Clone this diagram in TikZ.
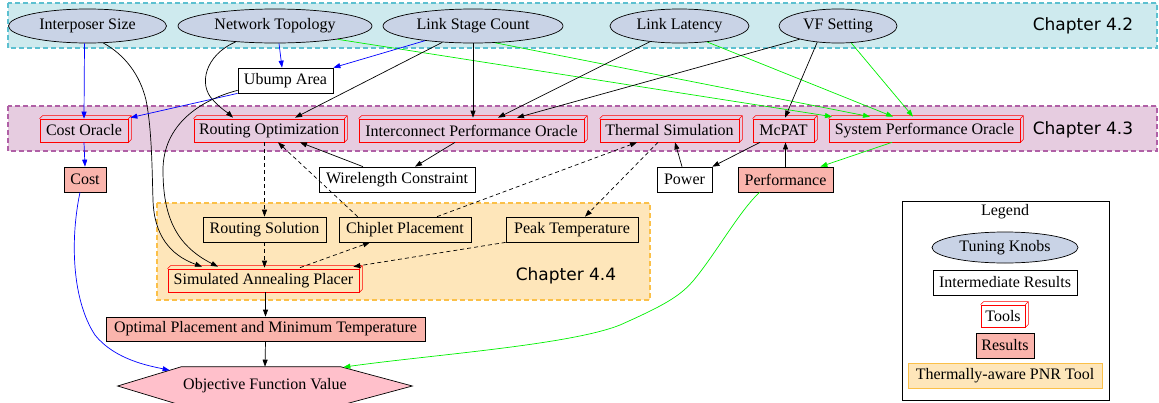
\documentclass[tikz,border=0pt]{standalone}
\usepackage{fontspec}
\setmainfont{Liberation Serif}
\newfontfamily\chapfont{DejaVu Sans}
\usetikzlibrary{shapes.geometric,arrows.meta,calc}
\definecolor{knobc}{RGB}{201,211,230}
\definecolor{resc}{RGB}{250,180,172}
\definecolor{objc}{RGB}{255,192,203}
\definecolor{cyanf}{RGB}{206,234,238}
\definecolor{cyand}{RGB}{92,192,208}
\definecolor{purpf}{RGB}{230,204,224}
\definecolor{purpd}{RGB}{176,96,166}
\definecolor{orngf}{RGB}{254,230,186}
\definecolor{orngd}{RGB}{251,192,72}
\definecolor{grn}{RGB}{0,240,0}
\begin{document}
\begin{tikzpicture}[x=1pt,y=-1pt,
  base/.style={inner sep=0pt, font=\fontsize{16}{18}\selectfont, line width=0.7pt},
  knob/.style={base, ellipse, draw=black, fill=knobc, minimum height=34},
  inter/.style={base, rectangle, draw=black, minimum height=25},
  tool/.style={base, rectangle, draw=red, minimum height=23},
  res/.style={base, rectangle, draw=black, fill=resc, minimum height=25},
  clus/.style={line width=1.8pt, dash pattern=on 5pt off 3pt},
  chap/.style={inner sep=0pt, font=\chapfont\fontsize{17}{20}\selectfont},
  arr/.style={-{Triangle[length=7pt,width=5pt]}, line width=0.7pt},
  dsh/.style={arr, dash pattern=on 4pt off 3pt},
]
\useasboundingbox (0,0) rectangle (1159,402);
% clusters
\path[clus, fill=cyanf, draw=cyand] (8,3) rectangle (1157,48);
\path[clus, fill=purpf, draw=purpd] (8,106) rectangle (1157,151);
\path[clus, fill=orngf, draw=orngd] (157,203) rectangle (650,300);
\node[chap] (ch42) at (1083,26) {Chapter 4.2};
\node[chap] (ch43) at (1083,130) {Chapter 4.3};
\node[chap] (ch44) at (566,276) {Chapter 4.4};
% knobs
\node[knob, minimum width=158] (ip) at (87.5,26) {Interposer Size};
\node[knob, minimum width=194] (nt) at (275,26) {Network Topology};
\node[knob, minimum width=180] (lsc) at (473,26) {Link Stage Count};
\node[knob, minimum width=139] (ll) at (679.5,26) {Link Latency};
\node[knob, minimum width=118] (vf) at (838,26) {VF Setting};
\node[inter, fill=white, minimum width=95] (ub) at (285.5,80.5) {Ubump Area};
% tools
\node[tool, minimum width=88] (co) at (84,130.5) {Cost Oracle};
\node[tool, minimum width=150] (ro) at (269,130.5) {Routing Optimization};
\node[tool, minimum width=225] (ipo) at (471.5,130.5) {Interconnect Performance Oracle};
\node[tool, minimum width=139] (ts) at (669.5,130.5) {Thermal Simulation};
\node[tool, minimum width=61] (mc) at (783.5,130.5) {McPAT};
\node[tool, minimum width=191] (spo) at (924.5,130.5) {System Performance Oracle};
% row 3
\node[res, minimum width=42] (cost) at (85,179.5) {Cost};
\node[inter, fill=white, minimum width=156] (wc) at (397,179.5) {Wirelength Constraint};
\node[inter, fill=white, minimum width=55] (pw) at (684.5,179.5) {Power};
\node[res, minimum width=95] (pf) at (785.5,179.5) {Performance};
% placer cluster
\node[inter, minimum width=123] (rs) at (264.5,229.5) {Routing Solution};
\node[inter, minimum width=132] (cp) at (405,229.5) {Chiplet Placement};
\node[inter, minimum width=132] (pt) at (572,229.5) {Peak Temperature};
\node[tool, minimum width=191] (sa) at (263.5,280.5) {Simulated Annealing Placer};
\node[res, minimum width=319, minimum height=24] (opt) at (265.5,329) {Optimal Placement and Minimum Temperature};
% objective hexagon
\node[base, minimum width=294, minimum height=38] (obj) at (265,386) {};
\draw[line width=0.7pt, fill=objc] (obj.west) -- ($(obj.north west)+(64,0)$) -- ($(obj.north east)+(-72,0)$) -- (obj.east) -- ($(obj.south east)+(-72,0)$) -- ($(obj.south west)+(64,0)$) -- cycle;
\node[base] at (obj) {Objective Function Value};
% legend
\node[base, draw=black, line width=0.6pt, minimum width=207, minimum height=199] (lg) at (1005.5,300.5) {};
\node[base] (lgt) at (1005,212) {Legend};
\node[knob, minimum width=146, minimum height=31] (tk) at (1005,247.5) {Tuning Knobs};
\node[inter, fill=white, minimum width=144] (ir) at (1005,282.5) {Intermediate Results};
\node[tool, fill=white, minimum width=44, minimum height=22] (tl) at (1003,316) {Tools};
\node[res, minimum width=58] (rr) at (1005,345.5) {Results};
\node[base, fill=orngf, draw=orngd, line width=0.5pt, minimum width=194, minimum height=25] (pnr) at (1005,375.5) {Thermally-aware PNR Tool};
% 3d depth of tools
\foreach \n in {co,ro,ipo,ts,mc,spo,sa,tl}
  \draw[red, line width=0.6pt] (\n.north west) -- ++(3,-3) -- ($(\n.north east)+(3,-3)$) -- ($(\n.south east)+(3,-3)$) -- (\n.south east) (\n.north east) -- ++(3,-3);
% edges
\draw[arr, blue] ($(ip.south)+(-3,0)$) -- (co.north);
\draw[arr] (ip.-47) .. controls (125,55) and (140,75) .. (146,100) .. controls (152,130) and (152,170) .. (153,200) .. controls (154,235) and (170,255) .. ($(sa.north)+(-61.5,-2)$);
\draw[arr, blue] ($(nt.south)+(4,0)$) -- ($(ub.north)+(-3.5,0)$);
\draw[arr] (nt.-158) .. controls (205,55) and (198,85) .. (213,100) .. controls (220,108) and (228,113) .. ($(ro.north)+(-36,-1)$);
\draw[arr, grn] (nt.-12) -- ($(spo.north)+(-92.5,-2)$);
\draw[arr, blue] (lsc.-163) -- (ub.north east);
\draw[arr] (lsc.-152) -- ($(ro.north)+(26,-1)$);
\draw[arr] (lsc.south) -- ($(ipo.north)+(1.5,-1)$);
\draw[arr, grn] (lsc.-37) -- ($(spo.north)+(-54.5,-2)$);
\draw[arr] (ll.-152) -- ($(ipo.north)+(26.5,-1)$);
\draw[arr, grn] (ll.-30) -- ($(spo.north)+(-31.5,-2)$);
\draw[arr] (vf.-161) -- ($(ipo.north)+(45.5,-1)$);
\draw[arr] (vf.-142) -- ($(mc.north)+(1.5,-1)$);
\draw[arr, grn] (vf.-52) -- ($(spo.north)+(-11.5,-2)$);
\draw[arr, blue] (ub.south west) -- ($(co.north east)+(2,-1)$);
\draw[arr] ($(ub.south west)+(0,-3)$) .. controls (200,100) and (163,125) .. (163,170) .. controls (163,215) and (175,245) .. ($(sa.north)+(-45.5,-2)$);
\draw[arr, blue] (co.south) -- (cost.north);
\draw[dsh] ($(ro.south)+(-4.5,0)$) -- (rs.north);
\draw[dsh] ($(cp.north west)+(19,0)$) -- ($(ro.south)+(9,0)$);
\draw[arr] ($(wc.north)+(-34,0)$) -- ($(ro.south)+(31,0)$);
\draw[arr] ($(ipo.south)+(-16.5,0)$) -- ($(wc.north)+(18,0)$);
\draw[dsh] ($(cp.north)+(32,0)$) -- ($(ts.south)+(-32.5,0)$);
\draw[dsh] ($(ts.south)+(-11.5,0)$) -- ($(pt.north)+(13,0)$);
\draw[arr] ($(pw.north)+(-2.5,0)$) -- ($(ts.south)+(5.5,0)$);
\draw[arr] ($(mc.south)+(-23.5,0)$) -- (pw.north east);
\draw[arr] (pf.north) -- ($(mc.south)+(2,0)$);
\draw[arr, grn] ($(spo.south)+(-32.5,0)$) -- ($(pf.north east)+(-13,0)$);
\draw[dsh] (rs.south) -- ($(sa.north)+(1,-1)$);
\draw[dsh] ($(sa.north)+(36.5,-1)$) -- ($(cp.south)+(-35,0)$);
\draw[dsh] (pt.south west) -- ($(sa.north east)+(-6,-2)$);
\draw[arr] ($(sa.south)+(2,0)$) -- (opt.north);
\draw[arr] (opt.south) -- (obj.north);
\draw[arr, blue] ($(cost.south)+(-5,0)$) .. controls (70,240) and (72,300) .. (95,335) .. controls (115,360) and (150,366) .. ($(obj.north west)+(52,3.6)$);
\draw[arr, grn] ($(pf.south west)+(22,0)$) .. controls (740,210) and (715,255) .. (693,281) .. controls (680,296) and (665,305) .. (620,325) .. controls (570,345) and (430,355) .. ($(obj.north east)+(-69,0.5)$);
\end{tikzpicture}
\end{document}
